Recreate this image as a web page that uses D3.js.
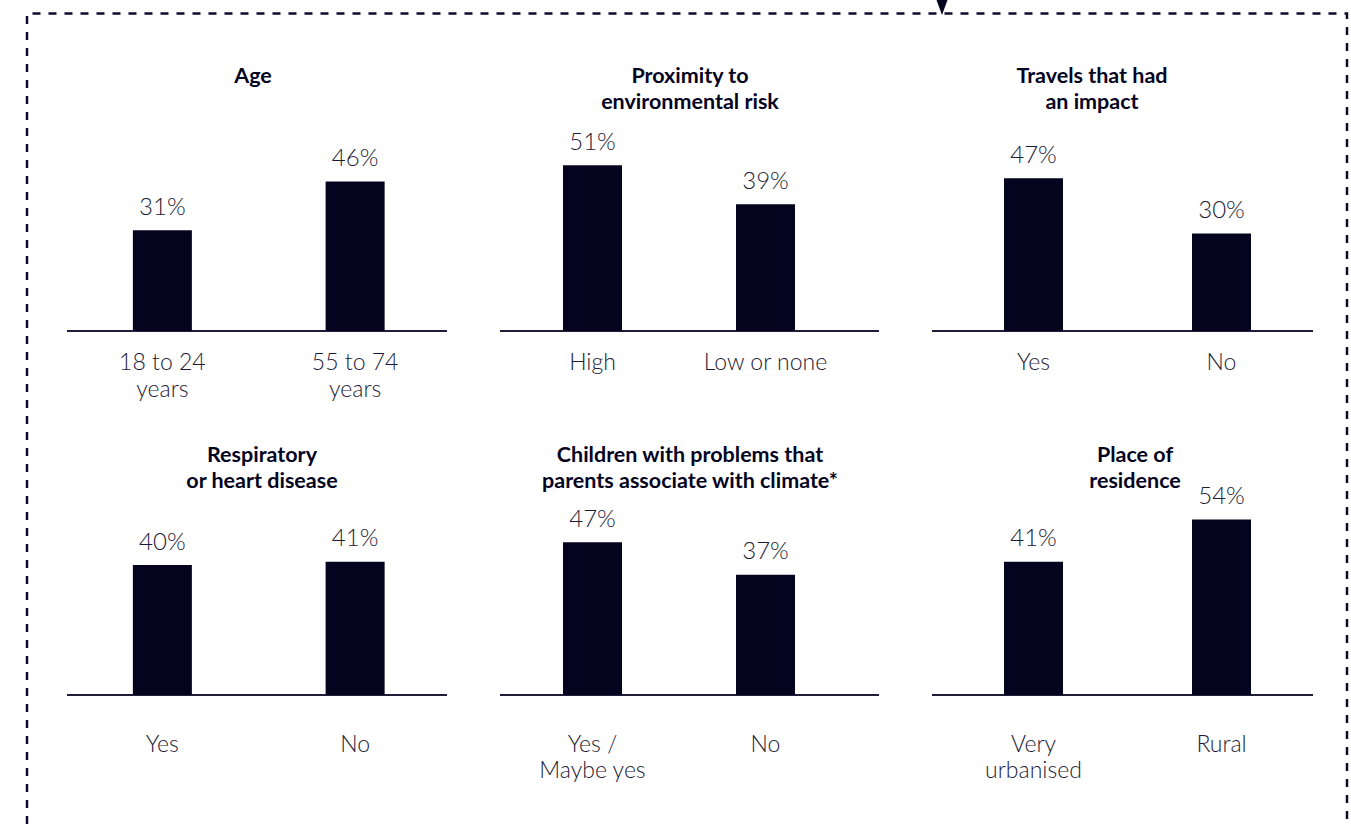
<!DOCTYPE html>
<html>
<head>
<meta charset="utf-8">
<script src="https://cdn.jsdelivr.net/npm/d3@7"></script>
<style>
  html, body { margin: 0; padding: 0; background: #ffffff; }
  svg { display: block; }
</style>
</head>
<body>
<svg id="chart" width="1351" height="827"></svg>
<script>
// ---- DATA ----
const panelTitles = [
  ["Age"],
  ["Proximity to", "environmental risk"],
  ["Travels that had", "an impact"],
  ["Respiratory", "or heart disease"],
  ["Children with problems that", "parents associate with climate*"],
  ["Place of", "residence"]
];
const panelCategories = [
  [["18 to 24", "years"], ["55 to 74", "years"]],
  [["High"], ["Low or none"]],
  [["Yes"], ["No"]],
  [["Yes"], ["No"]],
  [["Yes /", "Maybe yes"], ["No"]],
  [["Very", "urbanised"], ["Rural"]]
];
const panelValues = [
  [31, 46],
  [51, 39],
  [47, 30],
  [40, 41],
  [47, 37],
  [41, 54]
];

// ---- LAYOUT (positions / styles only) ----
const ink = "#05041f";
const textInk = "#1c1b36";
const cols = [
  { x0: 67, x1: 447, p0: 66, p1: 451.5, titleX: [253, 262] },
  { x0: 500, x1: 879, p0: 506, p1: 852, titleX: [690, 690] },
  { x0: 932, x1: 1313, p0: 939.5, p1: 1315.5, titleX: [1092, 1135] }
];
const rows = [
  { base: 331, titleY: 83, catY: 370, lead: 27 },
  { base: 695, titleY: 462, catY: 752, lead: 26 }
];
const barW = 59;
const hScale = d3.scaleLinear().domain([0, 100]).range([0, 325]);

const svg = d3.select("#chart");

// dashed frame
svg.append("path")
  .attr("d", "M27,840 L27,13.5 L1347,13.5 L1347,840")
  .attr("fill", "none")
  .attr("stroke", "#0d0c2b")
  .attr("stroke-width", 2.5)
  .attr("stroke-dasharray", "8,8");

// arrow
svg.append("path")
  .attr("d", "M936.5,0 L947.5,0 L942,15 Z")
  .attr("fill", ink);

panelValues.forEach((vals, i) => {
  const col = cols[i % 3];
  const row = rows[Math.floor(i / 3)];
  const g = svg.append("g");
  const cats = panelCategories[i].map(c => c.join(" "));
  const x = d3.scalePoint().domain(cats).range([col.p0, col.p1]).padding(0.5);

  // baseline
  g.append("line")
    .attr("x1", col.x0).attr("x2", col.x1)
    .attr("y1", row.base).attr("y2", row.base)
    .attr("stroke", "#1f1d3a").attr("stroke-width", 2);

  // bars
  g.selectAll("rect.bar").data(vals).enter().append("rect")
    .attr("class", "bar")
    .attr("x", (d, j) => x(cats[j]) - barW / 2)
    .attr("width", barW)
    .attr("y", d => row.base - hScale(d))
    .attr("height", d => hScale(d))
    .attr("fill", ink);

  // value labels
  g.selectAll("text.val").data(vals).enter().append("text")
    .attr("class", "val")
    .attr("x", (d, j) => x(cats[j]))
    .attr("y", d => row.base - hScale(d) - 15.5)
    .attr("text-anchor", "middle")
    .attr("font-family", "Lato, sans-serif")
    .attr("font-weight", 300)
    .attr("font-size", 24)
    .attr("fill", textInk)
    .text(d => d + "%");

  // category labels (one text element per line)
  panelCategories[i].forEach((lines, j) => {
    lines.forEach((ln, k) => {
      g.append("text")
        .attr("x", x(cats[j]))
        .attr("y", row.catY + k * row.lead)
        .attr("text-anchor", "middle")
        .attr("font-family", "Lato, sans-serif")
        .attr("font-weight", 300)
        .attr("font-size", 23)
        .attr("fill", textInk)
        .text(ln);
    });
  });

  // title
  panelTitles[i].forEach((ln, k) => {
    g.append("text")
      .attr("x", col.titleX[Math.floor(i / 3)])
      .attr("y", row.titleY + k * 26)
      .attr("text-anchor", "middle")
      .attr("font-family", "Lato, sans-serif")
      .attr("font-weight", 700)
      .attr("font-size", 21.5)
      .attr("fill", ink)
      .text(ln);
  });
});
</script>
</body>
</html>
